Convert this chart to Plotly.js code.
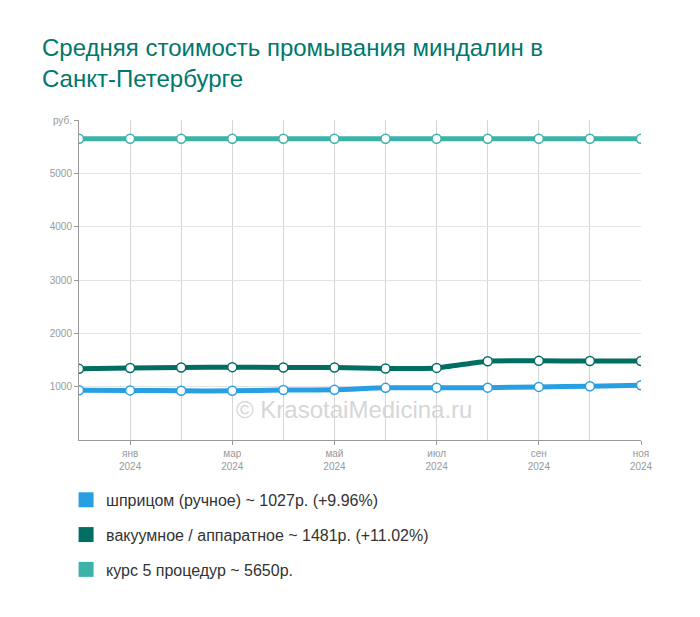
<!DOCTYPE html>
<html>
<head>
<meta charset="utf-8">
<script src="https://cdn.plot.ly/plotly-3.0.1.min.js"></script>
<style>html,body{margin:0;padding:0;background:#fff;}#chart{width:700px;height:617px;}</style>
</head>
<body>
<div id="chart"></div>
<script>
// Months from Dec 2023 to Nov 2024
const months = ['дек 2023','янв 2024','фев 2024','мар 2024','апр 2024','май 2024','июн 2024','июл 2024','авг 2024','сен 2024','окт 2024','ноя 2024'];
const labelIdx = [1, 3, 5, 7, 9, 11];
const labelText = ['янв<br>2024','мар<br>2024','май<br>2024','июл<br>2024','сен<br>2024','ноя<br>2024'];

const syringe = [934, 930, 922, 922, 938, 940, 978, 982, 982, 996, 1008, 1027];
const vacuum  = [1334, 1350, 1360, 1366, 1360, 1358, 1342, 1352, 1478, 1484, 1481, 1481];
const course  = [5650, 5650, 5650, 5650, 5650, 5650, 5650, 5650, 5650, 5650, 5650, 5650];

const seriesNames = [
  'шприцом (ручное) ~ 1027р. (+9.96%)',
  'вакуумное / аппаратное ~ 1481р. (+11.02%)',
  'курс 5 процедур ~ 5650р.'
];
const yTickVals = [1000, 2000, 3000, 4000, 5000, 6000];
const yTickText = ['1000', '2000', '3000', '4000', '5000', 'руб.'];

const colors = ['#279fe2', '#006e63', '#3cb3a8'];
const xs = months.map((m, i) => i);
const data = [syringe, vacuum, course];

const traces = [];
data.forEach((vals, k) => {
  traces.push({
    x: xs, y: vals, type: 'scatter', mode: 'lines+markers',
    line: {color: colors[k], width: 5, shape: 'spline', smoothing: 0.6},
    marker: {size: 9, color: '#ffffff', line: {color: colors[k], width: 1.5}},
    showlegend: false, hoverinfo: 'skip'
  });
});
data.forEach((vals, k) => {
  traces.push({
    x: [null], y: [null], type: 'scatter', mode: 'markers',
    name: seriesNames[k], legendgroup: 'g' + k,
    marker: {symbol: 'square', size: 15, color: colors[k]},
    showlegend: true
  });
});

const layout = {
  width: 700, height: 617,
  margin: {l: 79, r: 59, t: 120, b: 177},
  paper_bgcolor: '#ffffff', plot_bgcolor: '#ffffff',
  font: {family: 'Arial, "Liberation Sans", sans-serif', color: '#333'},
  title: {
    text: 'Средняя стоимость промывания миндалин в<br>Санкт-Петербурге',
    font: {size: 24, color: '#00786b', family: 'Arial, "Liberation Sans", sans-serif'},
    x: 0, xref: 'paper', xanchor: 'left', y: 0.91, yanchor: 'top',
    pad: {l: -37}
  },
  xaxis: {
    range: [0, 11], fixedrange: true,
    tickmode: 'array', tickvals: labelIdx, ticktext: labelText,
    ticks: 'outside', ticklen: 4, tickcolor: '#999',
    tickfont: {size: 10, color: '#999'},
    showgrid: true, gridcolor: '#d6d6d6', gridwidth: 1,
    minor: {tick0: 0, dtick: 1, showgrid: true, gridcolor: '#d6d6d6', gridwidth: 1, ticks: ''},
    showline: true, linecolor: '#999', linewidth: 1,
    zeroline: false
  },
  yaxis: {
    range: [0, 6000], fixedrange: true,
    tickmode: 'array', tickvals: yTickVals, ticktext: yTickText,
    ticks: 'outside', ticklen: 4, tickcolor: '#999',
    tickfont: {size: 10, color: '#999'},
    showgrid: true, gridcolor: '#e3e3e3', gridwidth: 1,
    showline: true, linecolor: '#999', linewidth: 1,
    zeroline: false
  },
  legend: {
    orientation: 'v', x: -0.023, xanchor: 'left', y: -0.134, yanchor: 'top',
    font: {size: 16, color: '#333'}, tracegroupgap: 11,
    bgcolor: 'rgba(0,0,0,0)'
  },
  annotations: [{
    text: '© KrasotaiMedicina.ru', xref: 'paper', yref: 'paper',
    x: 0.489, y: 0.094, xanchor: 'center', yanchor: 'middle', showarrow: false,
    font: {size: 24, color: '#d6d6d6'}
  }],
  hovermode: false
};

Plotly.newPlot('chart', traces, layout, {staticPlot: true, displayModeBar: false});
</script>
</body>
</html>
